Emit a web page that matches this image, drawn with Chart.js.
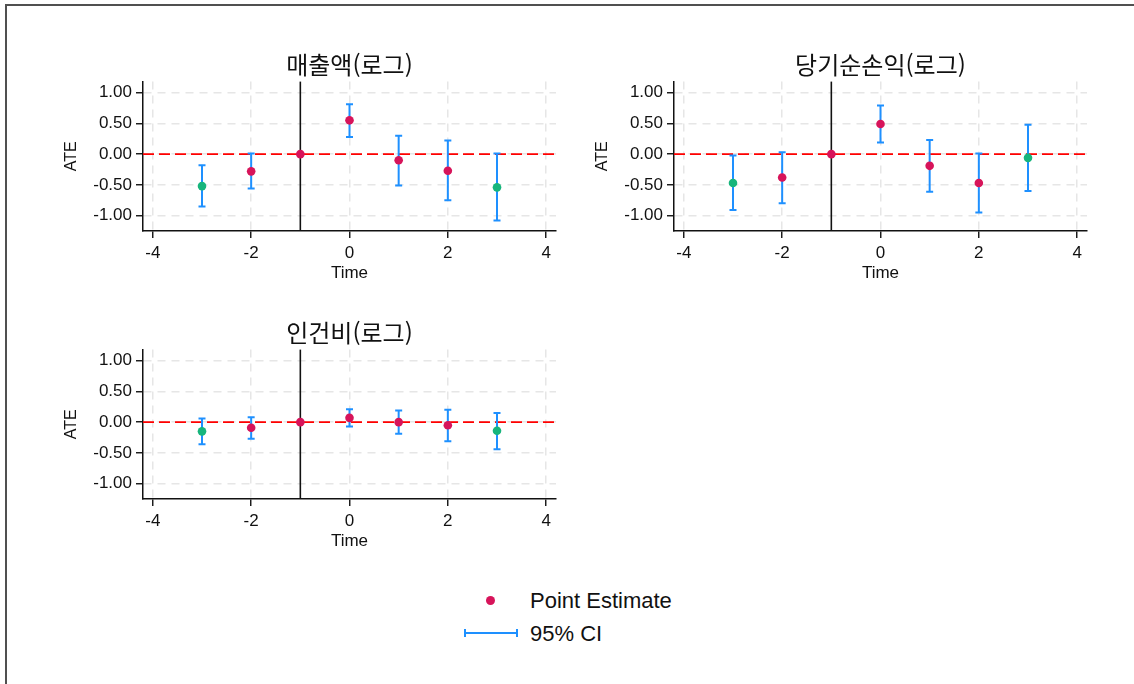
<!DOCTYPE html>
<html lang="ko">
<head>
<meta charset="utf-8">
<title>ATE event study</title>
<script src="https://cdn.jsdelivr.net/npm/chart.js@4.4.1/dist/chart.umd.min.js"></script>
<style>
  html, body { margin: 0; padding: 0; background: #fff; }
  body {
    width: 1134px; height: 684px; position: relative; overflow: hidden;
    font-family: 'Liberation Sans', Arial, sans-serif; color: #111;
  }
  .frame {
    position: absolute; left: 5px; top: 4px; width: 1200px; height: 800px;
    border-top: 2px solid #505050; border-left: 2px solid #505050;
  }
  canvas.panel { position: absolute; }
  #cSales { left: 40px;  top: 40px; }
  #cNet   { left: 571px; top: 40px; }
  #cLabor { left: 40px;  top: 308px; }

  /* legend under the panels */
  .lg-dot {
    position: absolute; left: 486px; top: 596px; width: 9px; height: 9px;
    border-radius: 50%; background: #D7145A;
  }
  .lg-ci { position: absolute; left: 464px; top: 629px; width: 54px; height: 8px; }
  .lg-ci::before {
    content: ''; position: absolute; left: 0; right: 0; top: 3px; height: 2px; background: #1E90FF;
  }
  .lg-ci::after {
    content: ''; position: absolute; left: 0; right: 0; top: 0; height: 8px;
    border-left: 2px solid #1E90FF; border-right: 2px solid #1E90FF; box-sizing: border-box;
  }
  .lg-text { position: absolute; left: 530px; font-size: 22px; line-height: 24px; white-space: nowrap; }
</style>
</head>
<body>
<div class="frame"></div>

<canvas id="cSales" class="panel" width="528" height="244"></canvas>
<canvas id="cNet" class="panel" width="528" height="244"></canvas>
<canvas id="cLabor" class="panel" width="528" height="244"></canvas>

<div class="lg-dot"></div>
<div class="lg-text" style="top:589px">Point Estimate</div>
<div class="lg-ci"></div>
<div class="lg-text" style="top:622px">95% CI</div>

<script>
  /* --- data: event time, estimates and 95% CI bounds --- */
  const TIMES = [-3, -2, -1, 0, 1, 2, 3];
  const ENDPOINT_TIMES = [-3, 3];   // binned end points, drawn in green
  const EVENT_TIME = -1;            // reference period (vertical line)

  const SALES_EST = [-0.52, -0.28, 0, 0.55, -0.10, -0.27, -0.54];
  const SALES_LO  = [-0.85, -0.56, null, 0.28, -0.51, -0.75, -1.08];
  const SALES_HI  = [-0.18, 0.01, null, 0.81, 0.30, 0.22, 0.01];

  const NET_EST = [-0.47, -0.38, 0, 0.49, -0.19, -0.47, -0.06];
  const NET_LO  = [-0.91, -0.80, null, 0.19, -0.61, -0.95, -0.60];
  const NET_HI  = [-0.02, 0.03, null, 0.79, 0.23, 0.01, 0.48];

  const LABOR_EST = [-0.15, -0.09, 0, 0.07, 0.00, -0.05, -0.14];
  const LABOR_LO  = [-0.36, -0.27, null, -0.07, -0.19, -0.31, -0.44];
  const LABOR_HI  = [0.06, 0.08, null, 0.21, 0.19, 0.20, 0.15];

  const X_TICKS = [-4, -2, 0, 2, 4];
  const Y_TICKS = [-1, -0.5, 0, 0.5, 1];
  const X_MIN = -4.2, X_MAX = 4.2;
  const Y_MIN = -1.25, Y_MAX = 1.18;

  /* --- colours --- */
  const COLORS = {
    point: '#D7145A',
    endpoint: '#17B57C',
    ci: '#1E90FF',
    zero: '#FF0000',
    event: '#111111',
    grid: '#E6E6E6',
    axis: '#111111',
    text: '#111111'
  };
  const SANS = "'Liberation Sans', Arial, sans-serif";

  /* zero line (red dashed) and reference period line (black) */
  const refLines = {
    id: 'refLines',
    beforeDatasetsDraw(chart) {
      const { ctx, chartArea: a, scales: { x, y } } = chart;
      const y0 = y.getPixelForValue(0);
      const xe = x.getPixelForValue(EVENT_TIME);
      ctx.save();
      ctx.lineWidth = 1.6;
      ctx.strokeStyle = COLORS.zero;
      ctx.setLineDash([11, 5]);
      ctx.beginPath();
      ctx.moveTo(a.left, y0);
      ctx.lineTo(a.right, y0);
      ctx.stroke();
      ctx.setLineDash([]);
      ctx.strokeStyle = COLORS.event;
      ctx.beginPath();
      ctx.moveTo(xe, a.top);
      ctx.lineTo(xe, a.bottom);
      ctx.stroke();
      ctx.restore();
    }
  };

  /* vertical CI segments, separated by null gaps */
  function ciSegments(lo, hi) {
    const pts = [];
    TIMES.forEach((t, i) => {
      if (lo[i] == null) return;
      pts.push({ x: t, y: lo[i] }, { x: t, y: hi[i] }, { x: t, y: null });
    });
    return pts;
  }

  function axisCommon(ticks) {
    return {
      type: 'linear',
      afterBuildTicks: s => { s.ticks = ticks.map(v => ({ value: v })); },
      grid: {
        color: COLORS.grid,
        lineWidth: 1.5,
        tickColor: COLORS.axis,
        tickLength: 7,
        tickWidth: 1.4,
        tickBorderDash: []
      },
      border: { color: COLORS.axis, width: 1.5, dash: [8, 6] }
    };
  }

  function createPanel(canvasId, title, est, lo, hi) {
    const canvas = document.getElementById(canvasId);
    if (!canvas || !window.Chart) return null;

    const xAxis = axisCommon(X_TICKS);
    Object.assign(xAxis, {
      min: X_MIN, max: X_MAX,
      ticks: { color: COLORS.text, padding: 5, font: { family: SANS, size: 17 }, callback: v => String(v) },
      title: { display: true, text: 'Time', color: COLORS.text, font: { family: SANS, size: 17 }, padding: 0 },
      afterFit: s => { s.height = 53; }
    });

    const yAxis = axisCommon(Y_TICKS);
    Object.assign(yAxis, {
      min: Y_MIN, max: Y_MAX,
      ticks: { color: COLORS.text, padding: 4, font: { family: SANS, size: 17 }, callback: v => v.toFixed(2) },
      title: { display: true, text: 'ATE', color: COLORS.text, font: { family: SANS, size: 16 }, padding: { top: 22, bottom: 0 } },
      afterFit: s => { s.width = 103; }
    });

    return new Chart(canvas, {
      data: {
        datasets: [
          {
            type: 'line',
            label: '95% CI',
            data: ciSegments(lo, hi),
            borderColor: COLORS.ci,
            borderWidth: 2,
            spanGaps: false,
            pointStyle: 'line',
            pointRadius: 3.5,
            pointBorderWidth: 2,
            pointBorderColor: COLORS.ci,
            order: 2
          },
          {
            type: 'scatter',
            label: 'Point Estimate',
            data: TIMES.map((t, i) => ({ x: t, y: est[i] })),
            pointRadius: 4.3,
            pointBorderWidth: 0,
            pointBackgroundColor: TIMES.map(t => ENDPOINT_TIMES.includes(t) ? COLORS.endpoint : COLORS.point),
            order: 1
          }
        ]
      },
      options: {
        responsive: false,
        animation: false,
        layout: { padding: { left: 0, right: 12, top: 0, bottom: 0 } },
        plugins: {
          legend: { display: false },
          tooltip: { enabled: false },
          title: {
            display: true,
            text: title,
            fullSize: false,
            color: COLORS.text,
            font: { family: "'Noto Sans CJK KR', sans-serif", size: 24, weight: 'normal', lineHeight: 1.15 },
            padding: { top: 11, bottom: 3 }
          }
        },
        scales: { x: xAxis, y: yAxis }
      },
      plugins: [refLines]
    });
  }

  createPanel('cSales', '매출액(로그)', SALES_EST, SALES_LO, SALES_HI);
  createPanel('cNet', '당기순손익(로그)', NET_EST, NET_LO, NET_HI);
  createPanel('cLabor', '인건비(로그)', LABOR_EST, LABOR_LO, LABOR_HI);
</script>
</body>
</html>
